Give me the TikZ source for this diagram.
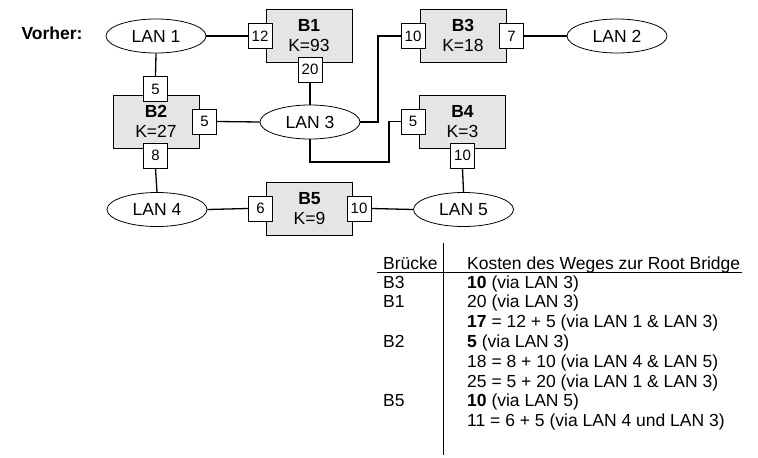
\documentclass[tikz,border=0pt]{standalone}
\usepackage{fontspec}
\setmainfont{Liberation Sans}
\usepackage{xcolor}
\usetikzlibrary{shapes.geometric}

\tikzset{
  lan/.style={draw, ellipse, minimum width=100pt, minimum height=34pt, inner sep=0pt, line width=0.8pt, fill=white},
  bridge/.style={draw, rectangle, fill=black!10, minimum width=86pt, minimum height=53pt, line width=0.8pt, align=center, inner sep=0pt},
  port/.style={draw, rectangle, fill=white, minimum width=24pt, minimum height=25pt, inner sep=0pt, line width=0.8pt, font=\fontsize{15}{17}\selectfont},
  link/.style={line width=1.3pt},
  cell/.style={anchor=base west, inner sep=0pt}
}

\begin{document}
\begin{tikzpicture}[x=1pt, y=-1pt, font=\fontsize{17.5}{20}\selectfont]
  \useasboundingbox (0,0) rectangle (758,458);

  \node (vorher) at (52,33) {\textbf{Vorher:}};

  % LANs
  \node[lan] (lan1) at (156,36) {LAN 1};
  \node[lan] (lan2) at (617,36) {LAN 2};
  \node[lan] (lan3) at (310,122) {LAN 3};
  \node[lan] (lan4) at (157,209.5) {LAN 4};
  \node[lan] (lan5) at (463.5,209.5) {LAN 5};

  % Bruecken
  \node[bridge] (b1) at (309,35.5) {\textbf{B1}\\K=93};
  \node[bridge] (b3) at (463,35.5) {\textbf{B3}\\K=18};
  \node[bridge] (b2) at (156,121.5) {\textbf{B2}\\K=27};
  \node[bridge] (b4) at (462.5,122) {\textbf{B4}\\K=3};
  \node[bridge] (b5) at (309.5,208.5) {\textbf{B5}\\K=9};

  % Ports
  \node[port] (p1l) at (260,36) {12};
  \node[port] (p1u) at (310,69.5) {20};
  \node[port] (p3l) at (413,36) {10};
  \node[port] (p3r) at (511.5,36) {7};
  \node[port] (p2o) at (155.5,89) {5};
  \node[port] (p2r) at (204.5,121.5) {5};
  \node[port] (p2u) at (155.5,155.5) {8};
  \node[port] (p4l) at (413,121.5) {5};
  \node[port] (p4u) at (462.5,155.5) {10};
  \node[port] (p5l) at (260.5,208.5) {6};
  \node[port] (p5r) at (359,208.5) {10};

  \coordinate (knick) at (378,80);
  \coordinate (unten) at (389,162);

  % Verbindungen
  \draw[link] (lan1.east) -- (p1l.west);
  \draw[link] (lan1.south) -- (p2o.north);
  \draw[link] (p1u.south) -- (lan3.north);
  \draw[link] (p2r.east) -- (lan3.west);
  \draw[link] (lan3.east) -| (knick) |- (p3l.west);
  \draw[link] (lan3.south) |- (unten) |- (p4l.west);
  \draw[link] (p3r.east) -- (lan2.west);
  \draw[link] (p2u.south) -- (lan4.north);
  \draw[link] (lan4.east) -- (p5l.west);
  \draw[link] (p5r.east) -- (lan5.west);
  \draw[link] (p4u.south) -- (lan5.north);

  % Tabelle
  \draw[line width=0.8pt] (443,243) -- (443,455);
  \draw[line width=0.8pt] (377,272) -- (742,272);

  \node[cell] (k1) at (383,269) {Brücke};
  \node[cell] (k2) at (467,269) {Kosten des Weges zur Root Bridge};
  \node[cell] (z1a) at (383,288) {B3};
  \node[cell] (z1b) at (467,288) {\textbf{10} (via LAN 3)};
  \node[cell] (z2a) at (383,307) {B1};
  \node[cell] (z2b) at (467,307) {20 (via LAN 3)};
  \node[cell] (z3b) at (467,327) {\textbf{17} = 12 + 5 (via LAN 1 \& LAN 3)};
  \node[cell] (z4a) at (383,347) {B2};
  \node[cell] (z4b) at (467,347) {\textbf{5} (via LAN 3)};
  \node[cell] (z5b) at (467,367) {18 = 8 + 10 (via LAN 4 \& LAN 5)};
  \node[cell] (z6b) at (467,387) {25 = 5 + 20 (via LAN 1 \& LAN 3)};
  \node[cell] (z7a) at (383,406) {B5};
  \node[cell] (z7b) at (467,406) {\textbf{10} (via LAN 5)};
  \node[cell] (z8b) at (467,426) {11 = 6 + 5 (via LAN 4 und LAN 3)};
\end{tikzpicture}
\end{document}
